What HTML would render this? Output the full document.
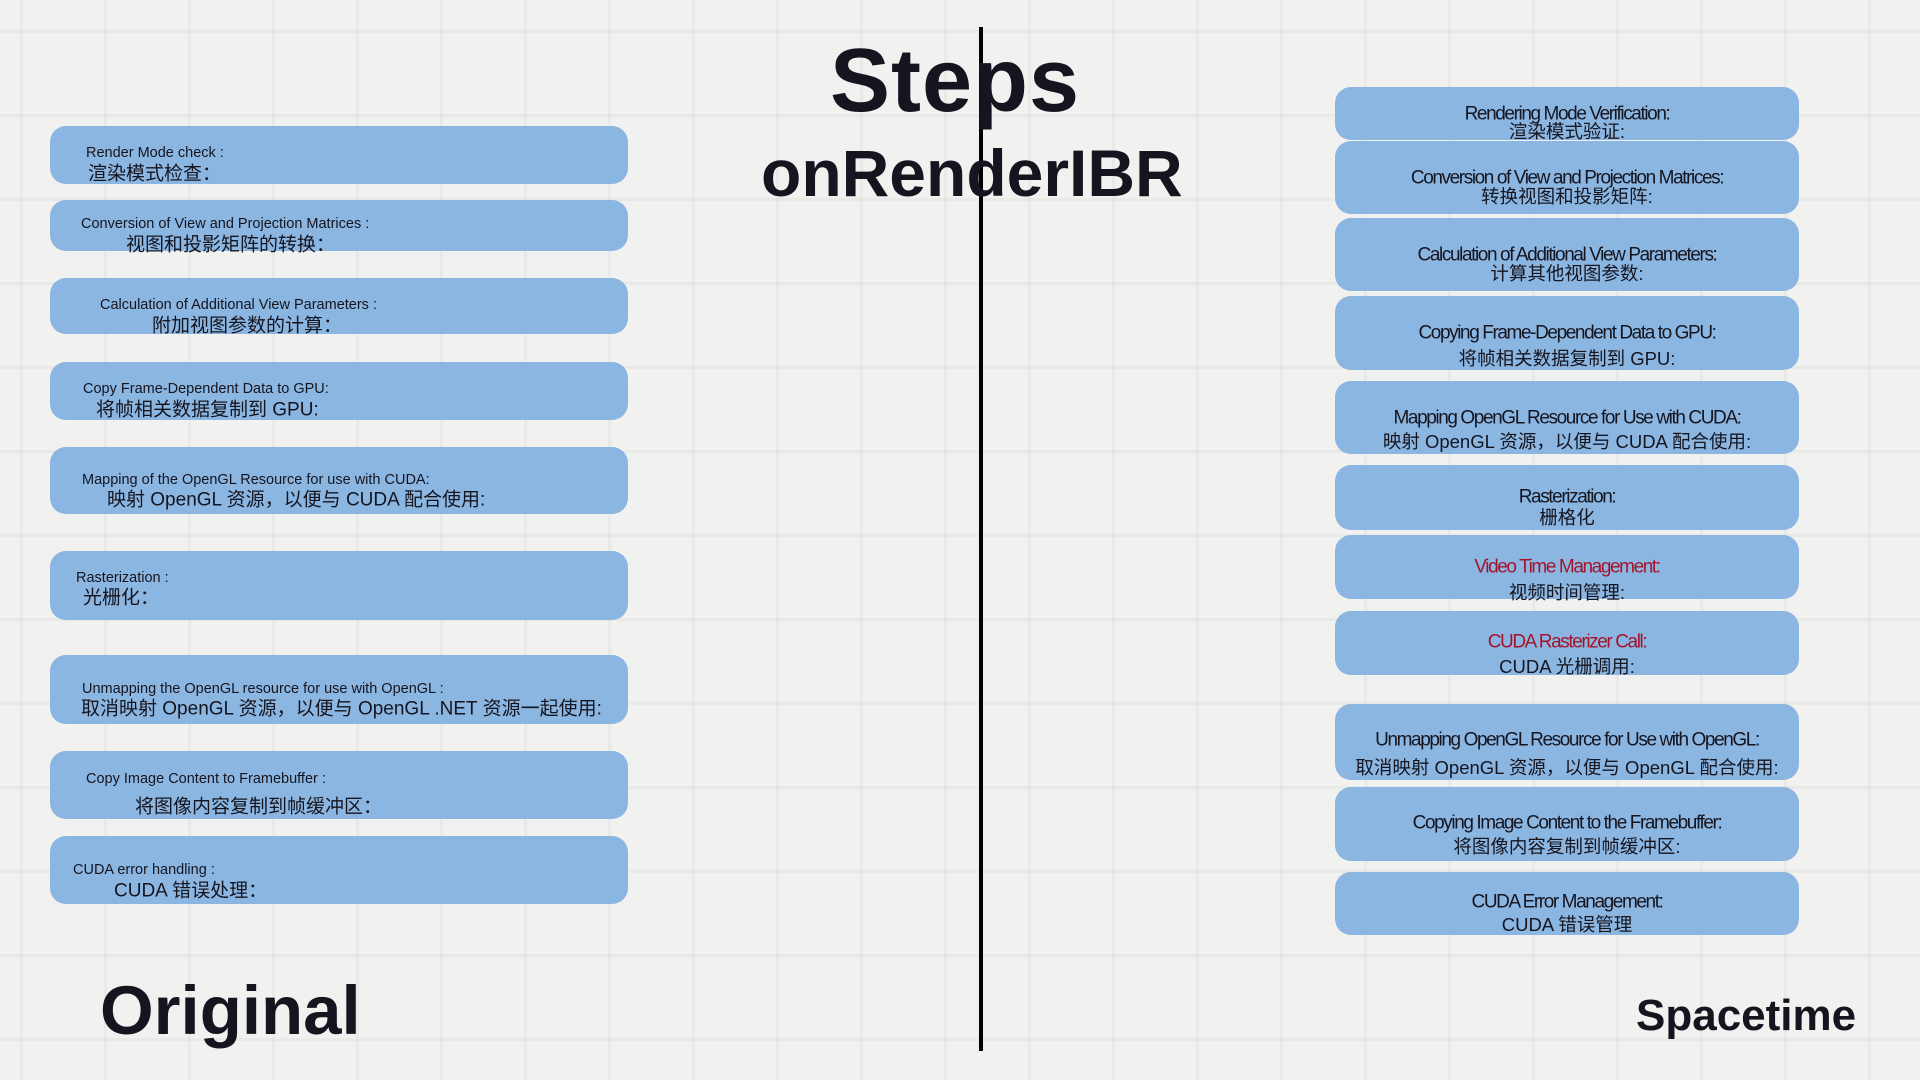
<!DOCTYPE html>
<html><head><meta charset="utf-8"><style>
body{margin:0;width:1920px;height:1080px;overflow:hidden;position:relative;
background-color:#f1f1f0;
background-image:linear-gradient(to right,rgba(0,0,0,0.03) 3px,transparent 3px),linear-gradient(to bottom,rgba(0,0,0,0.03) 3px,transparent 3px);
background-size:84px 84px;background-position:20px 30px;
font-family:"Liberation Sans","Noto Sans CJK SC",sans-serif;color:#15151f}
.b{position:absolute;background:#8cb6e2;border-radius:16px}
.t{position:absolute;white-space:nowrap;line-height:1;transform:translateY(-50%)}
.le{font-size:14.5px}
.lz{font-size:19px}
.r{position:absolute;left:1335px;width:464px;text-align:center;white-space:nowrap;line-height:1;transform:translateY(-50%)}
.re{font-size:19px;letter-spacing:-1.4px}
.rz{font-size:18.5px}
.red{color:#a3142a}
</style></head><body>
<div style="position:absolute;left:979px;top:27px;width:4px;height:1024px;background:#000"></div>
<div style="position:absolute;left:830px;top:36px;font-size:90px;font-weight:bold;line-height:1;letter-spacing:1px">Steps</div>
<div style="position:absolute;left:761px;top:140px;font-size:66px;font-weight:bold;line-height:1">onRenderIBR</div>
<div style="position:absolute;left:100px;top:976px;font-size:69px;font-weight:bold;line-height:1">Original</div>
<div style="position:absolute;left:1636px;top:994px;font-size:44px;font-weight:bold;line-height:1">Spacetime</div>

<!-- left boxes -->
<div class="b" style="left:50px;top:126px;width:578px;height:58px"></div>
<div class="t le" style="left:86px;top:153px">Render Mode check :</div>
<div class="t lz" style="left:88px;top:174px">渲染模式检查：</div>

<div class="b" style="left:50px;top:200px;width:578px;height:51px"></div>
<div class="t le" style="left:81px;top:224px">Conversion of View and Projection Matrices :</div>
<div class="t lz" style="left:126px;top:245px">视图和投影矩阵的转换：</div>

<div class="b" style="left:50px;top:278px;width:578px;height:56px"></div>
<div class="t le" style="left:100px;top:305px">Calculation of Additional View Parameters :</div>
<div class="t lz" style="left:152px;top:326px">附加视图参数的计算：</div>

<div class="b" style="left:50px;top:362px;width:578px;height:58px"></div>
<div class="t le" style="left:83px;top:389px">Copy Frame-Dependent Data to GPU:</div>
<div class="t lz" style="left:96px;top:410px">将帧相关数据复制到 GPU:</div>

<div class="b" style="left:50px;top:447px;width:578px;height:67px"></div>
<div class="t le" style="left:82px;top:480px">Mapping of the OpenGL Resource for use with CUDA:</div>
<div class="t lz" style="left:107px;top:500px">映射 OpenGL 资源，以便与 CUDA 配合使用:</div>

<div class="b" style="left:50px;top:551px;width:578px;height:69px"></div>
<div class="t le" style="left:76px;top:578px">Rasterization :</div>
<div class="t lz" style="left:83px;top:598px">光栅化：</div>

<div class="b" style="left:50px;top:655px;width:578px;height:69px"></div>
<div class="t le" style="left:82px;top:689px">Unmapping the OpenGL resource for use with OpenGL :</div>
<div class="t lz" style="left:81px;top:709px">取消映射 OpenGL 资源，以便与 OpenGL .NET 资源一起使用:</div>

<div class="b" style="left:50px;top:751px;width:578px;height:68px"></div>
<div class="t le" style="left:86px;top:779px">Copy Image Content to Framebuffer :</div>
<div class="t lz" style="left:135px;top:807px">将图像内容复制到帧缓冲区：</div>

<div class="b" style="left:50px;top:836px;width:578px;height:68px"></div>
<div class="t le" style="left:73px;top:870px">CUDA error handling :</div>
<div class="t lz" style="left:114px;top:891px">CUDA 错误处理：</div>

<!-- right boxes -->
<div class="b" style="left:1335px;top:87px;width:464px;height:53px"></div>
<div class="b" style="left:1335px;top:141px;width:464px;height:73px"></div>
<div class="b" style="left:1335px;top:218px;width:464px;height:73px"></div>
<div class="b" style="left:1335px;top:296px;width:464px;height:74px"></div>
<div class="b" style="left:1335px;top:381px;width:464px;height:73px"></div>
<div class="b" style="left:1335px;top:465px;width:464px;height:65px"></div>
<div class="b" style="left:1335px;top:535px;width:464px;height:64px"></div>
<div class="b" style="left:1335px;top:611px;width:464px;height:64px"></div>
<div class="b" style="left:1335px;top:704px;width:464px;height:76px"></div>
<div class="b" style="left:1335px;top:787px;width:464px;height:74px"></div>
<div class="b" style="left:1335px;top:872px;width:464px;height:63px"></div>

<div class="r re" style="top:114px">Rendering Mode Verification:</div>
<div class="r rz" style="top:132px">渲染模式验证:</div>
<div class="r re" style="top:178px">Conversion of View and Projection Matrices:</div>
<div class="r rz" style="top:197px">转换视图和投影矩阵:</div>
<div class="r re" style="top:255px">Calculation of Additional View Parameters:</div>
<div class="r rz" style="top:274px">计算其他视图参数:</div>
<div class="r re" style="top:333px">Copying Frame-Dependent Data to GPU:</div>
<div class="r rz" style="top:359px">将帧相关数据复制到 GPU:</div>
<div class="r re" style="top:418px">Mapping OpenGL Resource for Use with CUDA:</div>
<div class="r rz" style="top:442px">映射 OpenGL 资源，以便与 CUDA 配合使用:</div>
<div class="r re" style="top:497px">Rasterization:</div>
<div class="r rz" style="top:518px">栅格化</div>
<div class="r re red" style="top:567px">Video Time Management:</div>
<div class="r rz" style="top:593px">视频时间管理:</div>
<div class="r re red" style="top:642px">CUDA Rasterizer Call:</div>
<div class="r rz" style="top:667px">CUDA 光栅调用:</div>
<div class="r re" style="top:740px">Unmapping OpenGL Resource for Use with OpenGL:</div>
<div class="r rz" style="top:768px">取消映射 OpenGL 资源，以便与 OpenGL 配合使用:</div>
<div class="r re" style="top:823px">Copying Image Content to the Framebuffer:</div>
<div class="r rz" style="top:847px">将图像内容复制到帧缓冲区:</div>
<div class="r re" style="top:902px">CUDA Error Management:</div>
<div class="r rz" style="top:925px">CUDA 错误管理</div>
</body></html>
